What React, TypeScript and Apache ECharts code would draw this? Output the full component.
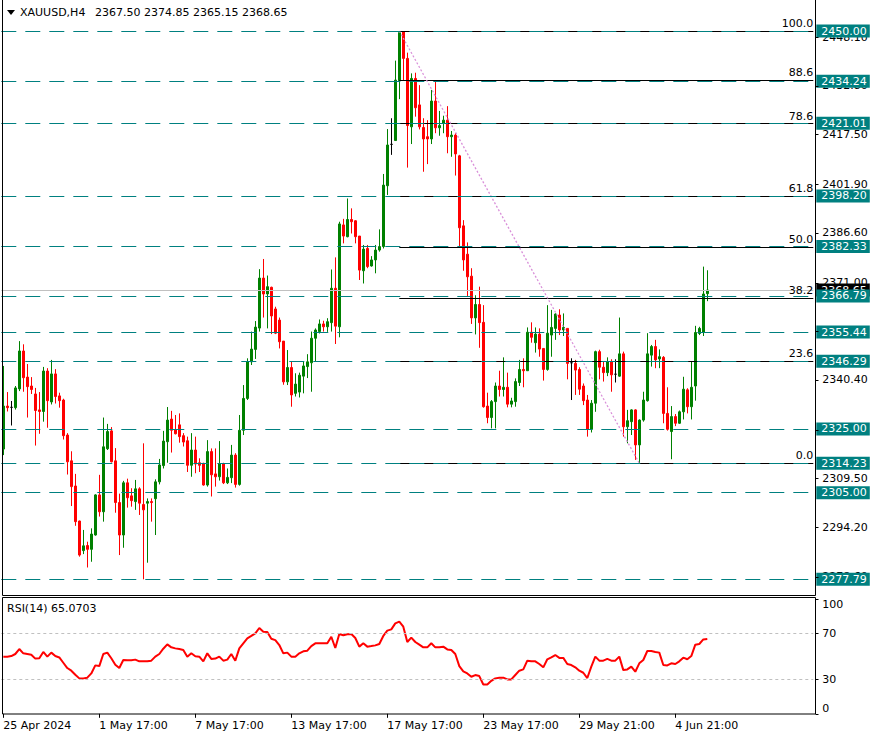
import React, { useEffect, useRef } from "react";
import * as echarts from "echarts";

const FONT = '"DejaVu Sans", Verdana, sans-serif';

const opens = [
  2318.7, 2332.2, 2331.8, 2331.7, 2337.6, 2349.5, 2341.3, 2338.5, 2336.0, 2331.0,
  2330.5, 2343.2, 2333.5, 2342.3, 2335.4, 2334.1, 2323.1, 2315.0, 2307.1, 2296.1,
  2286.8, 2288.4, 2287.2, 2291.7, 2304.3, 2299.0, 2318.8, 2324.4, 2315.0, 2301.9,
  2291.7, 2308.1, 2304.0, 2302.2, 2306.2, 2301.3, 2301.7, 2302.2, 2303.1, 2308.4,
  2313.5, 2321.0, 2328.1, 2324.7, 2326.3, 2322.9, 2321.3, 2313.6, 2318.4, 2314.4,
  2314.2, 2307.4, 2317.9, 2310.9, 2310.0, 2314.0, 2308.1, 2309.7, 2316.8, 2307.6,
  2324.6, 2334.6, 2346.1, 2350.0, 2356.7, 2372.4, 2367.4, 2369.5, 2362.7, 2359.2,
  2352.6, 2339.8, 2344.3, 2336.2, 2336.6, 2341.6, 2344.6, 2345.8, 2353.5, 2355.6,
  2358.0, 2357.1, 2358.4, 2369.2, 2357.1, 2389.1, 2385.4, 2390.8, 2390.4, 2385.6,
  2374.7, 2381.7, 2376.2, 2378.1, 2381.2, 2382.3, 2401.4, 2414.4, 2415.6, 2434.4,
  2449.8, 2441.4, 2419.9, 2435.1, 2426.8, 2419.7, 2416.8, 2416.1, 2428.0, 2419.6,
  2421.0, 2422.0, 2416.8, 2417.3, 2410.8, 2388.8, 2379.9, 2373.0, 2359.9, 2364.1,
  2358.5, 2332.2, 2328.6, 2333.6, 2338.5, 2337.4, 2338.1, 2332.8, 2333.6, 2339.6,
  2343.7, 2343.3, 2355.4, 2352.1, 2354.8, 2350.3, 2343.7, 2354.5, 2356.6, 2360.8,
  2356.1, 2356.6, 2345.8, 2345.6, 2343.7, 2338.5, 2334.1, 2324.9, 2333.1, 2349.3,
  2344.4, 2342.7, 2346.1, 2342.2, 2341.6, 2348.6, 2325.7, 2327.3, 2331.0, 2320.0,
  2327.8, 2333.9, 2348.2, 2350.9, 2347.0, 2347.5, 2329.9, 2324.2, 2328.9, 2326.8,
  2330.4, 2337.3, 2332.0, 2338.5, 2355.0, 2355.3, 2367.5,
];

const highs = [
  2344.8, 2336.6, 2333.8, 2338.5, 2352.6, 2351.6, 2345.4, 2341.3, 2337.9, 2336.6,
  2344.5, 2344.1, 2346.7, 2343.8, 2336.4, 2334.5, 2323.7, 2318.0, 2310.9, 2296.2,
  2293.3, 2289.6, 2293.8, 2304.5, 2310.6, 2328.6, 2326.6, 2325.6, 2319.0, 2304.7,
  2308.7, 2309.4, 2306.4, 2309.0, 2306.7, 2320.5, 2303.2, 2303.2, 2309.2, 2315.6,
  2324.4, 2331.9, 2330.7, 2329.4, 2329.9, 2323.7, 2322.6, 2323.7, 2322.6, 2315.8,
  2314.4, 2321.5, 2318.9, 2318.9, 2321.2, 2314.4, 2312.6, 2320.0, 2317.4, 2329.4,
  2338.8, 2347.2, 2355.6, 2358.9, 2375.2, 2378.4, 2373.2, 2369.7, 2363.4, 2360.0,
  2352.6, 2349.8, 2346.1, 2342.5, 2342.7, 2346.1, 2348.5, 2355.6, 2356.6, 2359.4,
  2359.0, 2359.8, 2375.1, 2378.9, 2390.1, 2391.0, 2397.4, 2394.3, 2390.6, 2385.6,
  2382.8, 2382.8, 2379.3, 2382.8, 2387.7, 2405.1, 2419.2, 2422.6, 2440.7, 2450.0,
  2449.9, 2443.2, 2436.7, 2436.9, 2433.0, 2422.6, 2422.0, 2431.5, 2434.3, 2424.9,
  2423.4, 2426.4, 2418.6, 2417.9, 2411.1, 2390.6, 2383.6, 2375.5, 2367.0, 2369.7,
  2363.9, 2336.4, 2334.1, 2339.6, 2343.3, 2347.5, 2342.7, 2334.8, 2340.9, 2346.7,
  2347.2, 2356.9, 2358.5, 2356.9, 2356.6, 2350.3, 2363.9, 2362.4, 2361.3, 2362.6,
  2361.3, 2356.6, 2347.2, 2346.7, 2344.4, 2339.3, 2335.7, 2334.1, 2349.6, 2349.9,
  2346.1, 2347.5, 2346.9, 2346.9, 2360.0, 2349.3, 2331.0, 2331.2, 2331.2, 2328.0,
  2336.7, 2355.1, 2351.4, 2353.0, 2350.0, 2347.9, 2338.1, 2332.2, 2329.7, 2330.8,
  2341.4, 2337.8, 2346.1, 2357.4, 2357.1, 2376.0, 2374.85,
];

const lows = [
  2316.8, 2330.5, 2326.1, 2331.1, 2336.9, 2336.7, 2328.6, 2336.0, 2319.8, 2323.5,
  2327.3, 2325.4, 2332.7, 2333.0, 2331.7, 2321.7, 2310.7, 2300.8, 2294.6, 2284.9,
  2285.7, 2281.5, 2283.3, 2291.5, 2297.5, 2295.9, 2318.4, 2314.5, 2298.7, 2285.4,
  2287.7, 2300.3, 2300.6, 2299.6, 2298.0, 2277.79, 2283.0, 2295.9, 2291.7, 2307.6,
  2312.6, 2314.4, 2317.6, 2323.3, 2320.7, 2319.5, 2311.5, 2310.0, 2311.1, 2311.5,
  2307.2, 2306.9, 2303.8, 2306.9, 2308.8, 2307.7, 2307.7, 2308.0, 2306.6, 2307.2,
  2323.1, 2334.1, 2345.1, 2347.0, 2355.6, 2360.0, 2356.6, 2354.8, 2354.8, 2350.3,
  2338.9, 2338.8, 2332.0, 2335.2, 2334.9, 2336.2, 2341.0, 2336.7, 2346.1, 2355.0,
  2355.6, 2355.5, 2355.6, 2351.7, 2353.8, 2383.3, 2385.2, 2386.4, 2383.3, 2371.8,
  2370.7, 2375.5, 2376.0, 2373.9, 2380.7, 2381.7, 2398.5, 2411.1, 2415.6, 2428.6,
  2434.6, 2407.1, 2414.5, 2423.1, 2419.1, 2405.8, 2408.2, 2414.5, 2417.9, 2417.1,
  2417.9, 2411.6, 2410.5, 2404.6, 2381.9, 2374.7, 2366.6, 2358.0, 2354.7, 2350.5,
  2331.7, 2326.8, 2325.2, 2325.2, 2335.2, 2335.2, 2331.8, 2331.8, 2332.0, 2338.5,
  2338.1, 2343.3, 2352.1, 2349.0, 2347.7, 2340.2, 2343.3, 2347.7, 2353.0, 2354.5,
  2354.2, 2340.6, 2334.1, 2335.7, 2335.7, 2332.5, 2322.6, 2323.9, 2330.4, 2340.6,
  2339.9, 2341.6, 2336.7, 2339.6, 2341.4, 2322.6, 2320.5, 2323.1, 2315.3, 2314.23,
  2327.3, 2333.6, 2344.6, 2344.1, 2344.1, 2326.8, 2324.5, 2315.5, 2325.9, 2326.6,
  2328.0, 2329.9, 2328.0, 2333.9, 2354.5, 2354.2, 2365.15,
];

const closes = [
  2332.2, 2331.7, 2331.8, 2337.9, 2349.5, 2341.1, 2338.3, 2337.4, 2330.8, 2330.5,
  2343.2, 2333.9, 2342.3, 2335.2, 2333.9, 2322.9, 2314.7, 2306.9, 2295.9, 2285.4,
  2288.3, 2287.2, 2292.0, 2304.3, 2299.0, 2319.4, 2324.2, 2314.7, 2301.9, 2291.7,
  2308.1, 2303.4, 2302.5, 2306.2, 2301.7, 2299.6, 2302.2, 2301.9, 2308.4, 2313.7,
  2321.2, 2327.8, 2324.6, 2323.5, 2322.6, 2320.9, 2313.6, 2318.4, 2314.0, 2313.6,
  2307.4, 2317.9, 2310.6, 2310.0, 2314.0, 2308.1, 2309.8, 2316.8, 2307.6, 2324.6,
  2334.6, 2346.1, 2350.1, 2357.0, 2372.4, 2367.4, 2369.7, 2360.5, 2355.1, 2352.4,
  2339.8, 2344.3, 2335.7, 2339.1, 2341.9, 2344.8, 2346.1, 2353.5, 2356.1, 2358.0,
  2357.1, 2358.7, 2369.2, 2357.3, 2389.4, 2385.6, 2390.8, 2390.1, 2385.4, 2374.9,
  2381.5, 2376.0, 2378.1, 2381.2, 2382.3, 2401.6, 2414.2, 2414.4, 2434.6, 2449.5,
  2441.4, 2420.3, 2435.1, 2425.9, 2419.9, 2416.1, 2416.1, 2428.0, 2419.6, 2420.3,
  2422.0, 2416.8, 2417.3, 2411.4, 2388.2, 2378.1, 2372.8, 2359.9, 2364.1, 2358.4,
  2332.0, 2328.6, 2333.6, 2338.5, 2337.4, 2338.1, 2332.8, 2333.8, 2339.9, 2343.7,
  2343.3, 2355.4, 2353.8, 2354.8, 2350.1, 2343.7, 2355.1, 2356.9, 2361.1, 2356.1,
  2356.9, 2345.6, 2345.8, 2343.5, 2337.5, 2333.9, 2324.9, 2333.1, 2349.3, 2344.4,
  2342.7, 2346.1, 2342.0, 2342.2, 2348.6, 2325.7, 2327.6, 2331.0, 2320.0, 2327.8,
  2334.1, 2348.6, 2350.9, 2346.7, 2347.7, 2329.9, 2324.9, 2328.9, 2326.8, 2330.4,
  2337.5, 2332.0, 2338.1, 2355.3, 2356.6, 2367.4, 2368.65,
];

const rsiValues = [
  49.7, 49.7, 50.2, 52.0, 56.3, 52.6, 52.0, 51.4, 48.0, 48.3,
  53.8, 49.7, 53.2, 50.2, 49.0, 44.4, 39.8, 37.5, 34.0, 30.8,
  30.8, 31.4, 35.1, 42.1, 41.5, 52.0, 53.2, 48.3, 42.7, 39.8,
  46.8, 46.5, 46.5, 47.1, 45.6, 45.6, 45.6, 46.2, 49.7, 52.0,
  56.6, 60.4, 57.8, 56.9, 56.3, 55.5, 49.7, 52.6, 50.0, 49.7,
  45.6, 52.6, 47.7, 48.0, 49.7, 46.2, 47.1, 52.0, 46.2, 56.9,
  61.3, 65.6, 67.7, 70.0, 74.6, 71.4, 71.1, 65.3, 64.1, 59.8,
  52.6, 53.2, 49.7, 49.7, 52.6, 54.3, 54.9, 58.9, 61.3, 61.3,
  61.3, 61.3, 67.0, 57.2, 69.4, 68.3, 69.1, 69.4, 65.9, 58.4,
  61.3, 58.4, 58.9, 59.5, 60.7, 67.7, 72.3, 73.4, 78.6, 80.1,
  75.7, 62.4, 66.2, 62.4, 60.1, 57.8, 57.8, 61.3, 57.8, 57.8,
  58.4, 56.0, 55.5, 52.0, 41.5, 36.9, 35.1, 32.2, 33.7, 32.8,
  25.5, 25.5, 28.7, 30.8, 31.4, 31.4, 29.9, 29.9, 33.7, 37.5,
  38.6, 46.2, 45.6, 45.6, 43.3, 40.4, 47.4, 49.1, 51.1, 48.6,
  48.6, 43.3, 42.4, 40.4, 37.5, 35.7, 31.1, 41.0, 49.7, 46.2,
  46.2, 47.7, 46.2, 46.2, 49.7, 38.0, 38.6, 41.0, 36.6, 43.9,
  46.8, 54.6, 54.6, 53.8, 53.2, 42.4, 42.1, 43.9, 43.3, 45.6,
  48.8, 47.4, 50.2, 60.1, 60.7, 64.7, 65.07,
];

const dateLabels = [
  "25 Apr 2024", "1 May 17:00", "7 May 17:00", "13 May 17:00",
  "17 May 17:00", "23 May 17:00", "29 May 21:00", "4 Jun 21:00",
];
const barsPerDateLabel = 24;
const totalSlots = 203;

const priceTicks = [
  2448.1, 2432.8, 2417.5, 2401.9, 2386.6, 2371.0, 2355.7, 2340.4, 2324.8, 2309.5, 2294.2, 2278.6,
];
const rsiTicks = [0, 30, 70, 100];
const rsiLevels = [70, 30];

const horizontalLevels = [
  2450.0, 2434.24, 2421.01, 2398.2, 2382.33, 2366.79, 2355.44, 2346.29, 2325.0, 2314.23, 2305.0, 2277.79,
];
const bidPrice = 2368.65;
const fibRatios = [100, 88.6, 78.6, 61.8, 50, 38.2, 23.6, 0];
const fibHigh = 2450.0;
const fibLow = 2314.23;
const fibHighBar = 99;
const fibLowBar = 159;

const headerSymbol = "XAUUSD,H4";
const headerValues = "2367.50 2374.85 2365.15 2368.65";
const rsiHeader = "RSI(14) 65.0703";

const priceMin = 2272.86;
const priceMax = 2459.74;

const AXIS_X = 815.5;
const TICK_LEN = 3;

function baseGraphics() {
  return [
    {
      id: "frameMain",
      type: "polyline",
      silent: true,
      z: 10,
      shape: { points: [[2.5, 0], [2.5, 595.5], [AXIS_X, 595.5], [AXIS_X, 0]] },
      style: { stroke: "#000", lineWidth: 1, fill: null },
    },
    {
      id: "frameRsi",
      type: "rect",
      silent: true,
      z: 10,
      shape: { x: 2.5, y: 597.5, width: AXIS_X - 2.5, height: 116.5 },
      style: { stroke: "#000", lineWidth: 1, fill: null },
    },
    {
      id: "tri",
      type: "polygon",
      silent: true,
      z: 10,
      shape: { points: [[7, 10], [15, 10], [11, 15]] },
      style: { fill: "#000" },
    },
    {
      id: "hdr1",
      type: "text",
      silent: true,
      z: 10,
      x: 20,
      y: 12,
      style: { text: headerSymbol, fill: "#000", fontSize: 11, fontFamily: FONT, verticalAlign: "middle" },
    },
    {
      id: "hdr2",
      type: "text",
      silent: true,
      z: 10,
      x: 95,
      y: 12,
      style: { text: headerValues, fill: "#000", fontSize: 11, fontFamily: FONT, verticalAlign: "middle" },
    },
    {
      id: "hdrRsi",
      type: "text",
      silent: true,
      z: 10,
      x: 7,
      y: 608,
      style: { text: rsiHeader, fill: "#000", fontSize: 11, fontFamily: FONT, verticalAlign: "middle" },
    },
  ];
}

function buildOption() {
  const cats = Array.from({ length: totalSlots }, (_, i) => String(i));
  const candleData = opens.map((o, i) => [o, closes[i], lows[i], highs[i]]);
  const fibLines = fibRatios.map((r) => {
    const lvl = fibLow + ((fibHigh - fibLow) * r) / 100;
    return [
      { coord: [fibHighBar, lvl] },
      {
        coord: [totalSlots - 0.5, lvl],
        label: {
          show: true,
          position: "insideEndTop",
          distance: [0, 2],
          formatter: r.toFixed(1),
          color: "#000",
          fontSize: 11,
          fontFamily: FONT,
        },
      },
    ];
  });
  const isDateTick = (i: number) => i % barsPerDateLabel === 0 && i / barsPerDateLabel < dateLabels.length;

  const baseLabel = { color: "#000", fontSize: 11, fontFamily: FONT };
  const noExtras = {
    splitLine: { show: false },
    splitArea: { show: false },
    minorTick: { show: false },
    minorSplitLine: { show: false },
  };

  return {
    animation: false,
    backgroundColor: "#fff",
    textStyle: { fontFamily: FONT },
    grid: [
      { left: 1.3, width: 812, top: 0, height: 595, show: false },
      { left: 1.3, width: 812, top: 598.8, height: 115, show: false },
    ],
    xAxis: [
      { type: "category", gridIndex: 0, data: cats, boundaryGap: true, show: false, ...noExtras },
      { type: "value", gridIndex: 0, min: -0.5, max: totalSlots - 0.5, show: false, ...noExtras },
      {
        type: "category",
        gridIndex: 1,
        data: cats,
        boundaryGap: true,
        ...noExtras,
        axisLine: { show: false },
        axisTick: {
          show: true,
          inside: false,
          alignWithLabel: true,
          interval: (i: number) => isDateTick(i),
          length: 4,
          lineStyle: { color: "#000", width: 1 },
        },
        axisLabel: {
          ...baseLabel,
          interval: (i: number) => isDateTick(i),
          formatter: (_v: string, i: number) => dateLabels[i / barsPerDateLabel] ?? "",
          align: "left",
          margin: 6,
        },
      },
    ],
    yAxis: [
      {
        type: "value",
        gridIndex: 0,
        position: "right",
        offset: 2,
        min: priceMin,
        max: priceMax,
        ...noExtras,
        axisLine: { show: false },
        axisTick: { show: false },
        axisLabel: {
          ...baseLabel,
          customValues: priceTicks,
          formatter: (v: number) => v.toFixed(2),
          margin: 7,
        },
      },
      {
        type: "value",
        gridIndex: 1,
        position: "right",
        offset: 2,
        min: 0,
        max: 100,
        ...noExtras,
        axisLine: { show: false },
        axisTick: { show: false },
        axisLabel: {
          ...baseLabel,
          customValues: rsiTicks,
          formatter: (v: number) => String(v),
          margin: 7,
          verticalAlignMinLabel: "bottom",
          verticalAlignMaxLabel: "top",
        },
      },
    ],
    series: [
      {
        type: "candlestick",
        xAxisIndex: 0,
        yAxisIndex: 0,
        data: candleData,
        barWidth: 2,
        z: 2,
        itemStyle: {
          color: "#008000",
          color0: "#ff0000",
          borderColor: "#008000",
          borderColor0: "#ff0000",
          borderColorDoji: "#000000",
          borderWidth: 1,
        },
      },
      {
        type: "line",
        name: "bid",
        xAxisIndex: 1,
        yAxisIndex: 0,
        data: [],
        markLine: {
          z: 4,
          silent: true,
          symbol: ["none", "none"],
          lineStyle: { color: "#c0c0c0", type: "solid", width: 1 },
          label: {
            show: true,
            position: "end",
            distance: 3,
            formatter: bidPrice.toFixed(2),
            color: "#fff",
            backgroundColor: "#000",
            padding: [2, 3, 0, 5],
            lineHeight: 11,
            fontSize: 11,
            fontFamily: FONT,
          },
          data: [{ yAxis: bidPrice }],
        },
      },
      {
        type: "line",
        name: "fibo",
        xAxisIndex: 1,
        yAxisIndex: 0,
        data: [],
        markLine: {
          z: 4,
          silent: true,
          symbol: ["none", "none"],
          lineStyle: { color: "#000", type: "solid", width: 1 },
          label: { show: false },
          data: [
            ...fibLines,
            [
              { coord: [fibHighBar, fibHigh], lineStyle: { color: "#d990d9", type: [2, 2], width: 1.3 } },
              { coord: [fibLowBar, fibLow] },
            ],
          ],
        },
      },
      {
        type: "line",
        name: "levels",
        xAxisIndex: 1,
        yAxisIndex: 0,
        data: [],
        markLine: {
          z: 5,
          silent: true,
          symbol: ["none", "none"],
          lineStyle: { color: "#008080", type: [15, 9], width: 1 },
          label: {
            show: true,
            position: "end",
            distance: 3,
            color: "#fff",
            backgroundColor: "#008080",
            padding: [2, 3, 0, 5],
            lineHeight: 11,
            fontSize: 11,
            fontFamily: FONT,
          },
          data: horizontalLevels.map((v) => ({ yAxis: v, label: { formatter: v.toFixed(2) } })),
        },
      },
      {
        type: "line",
        name: "RSI",
        xAxisIndex: 2,
        yAxisIndex: 1,
        data: rsiValues,
        symbol: "none",
        showSymbol: false,
        lineStyle: { color: "#ff0000", width: 2 },
        markLine: {
          silent: true,
          symbol: ["none", "none"],
          label: { show: false },
          lineStyle: { color: "#c0c0c0", type: [3, 3], width: 1 },
          data: rsiLevels.map((v) => ({ yAxis: v })),
        },
      },
    ],
    graphic: baseGraphics(),
  };
}

export default function App() {
  const ref = useRef<HTMLDivElement>(null);
  useEffect(() => {
    document.body.style.margin = "0";
    document.body.style.overflow = "hidden";
    if (!ref.current) return;
    const chart = echarts.init(ref.current, undefined, { renderer: "svg" });
    chart.setOption(buildOption() as any);
    const tickEls: any[] = [];
    priceTicks.forEach((v, k) => {
      const y = Math.round(chart.convertToPixel({ yAxisIndex: 0 }, v) as number) + 0.5;
      tickEls.push({
        id: "pt" + k,
        type: "line",
        silent: true,
        z: 10,
        shape: { x1: AXIS_X, y1: y, x2: AXIS_X + TICK_LEN, y2: y },
        style: { stroke: "#000", lineWidth: 1 },
      });
    });
    rsiTicks.forEach((v, k) => {
      const y = Math.round(chart.convertToPixel({ yAxisIndex: 1 }, v) as number) + 0.5;
      tickEls.push({
        id: "rt" + k,
        type: "line",
        silent: true,
        z: 10,
        shape: { x1: AXIS_X, y1: y, x2: AXIS_X + TICK_LEN, y2: y },
        style: { stroke: "#000", lineWidth: 1 },
      });
    });
    chart.setOption({ graphic: [...baseGraphics(), ...tickEls] } as any);
    return () => chart.dispose();
  }, []);
  return <div ref={ref} style={{ width: 879, height: 738, background: "#fff" }} />;
}
